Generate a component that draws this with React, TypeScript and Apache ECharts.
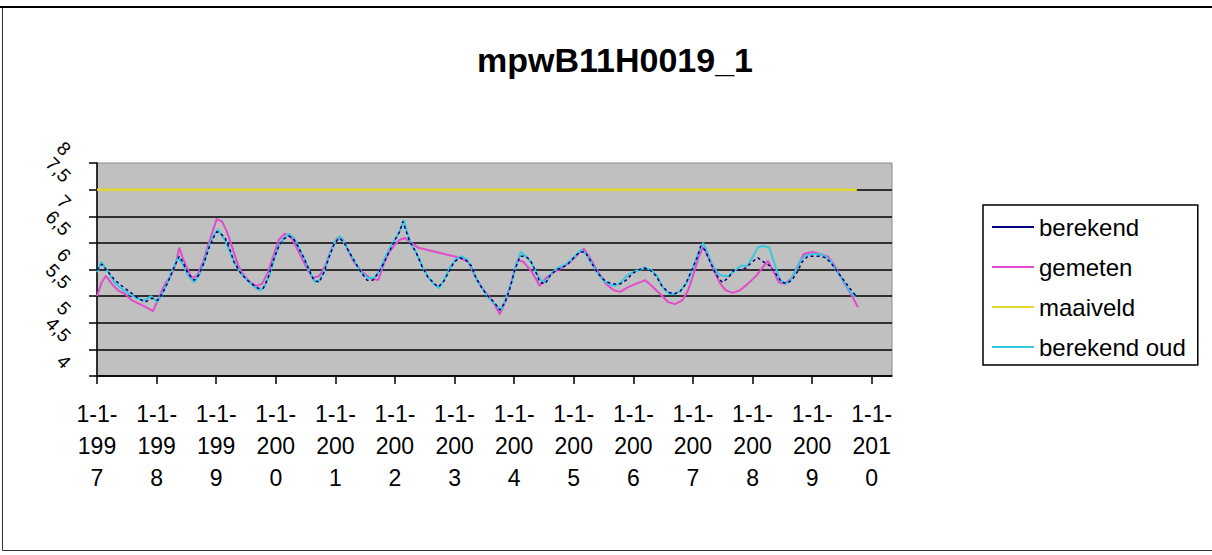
import React, { useEffect, useRef } from 'react';
import * as echarts from 'echarts';

const titleText = 'mpwB11H0019_1';
const yearTicks = [1997, 1998, 1999, 2000, 2001, 2002, 2003, 2004, 2005, 2006, 2007, 2008, 2009, 2010];
const yWholeLabels = [4, 5, 6, 7, 8];
const yHalfLabels = [4.5, 5.5, 6.5, 7.5];
const seriesNames = ['berekend', 'gemeten', 'maaiveld', 'berekend oud'];

const berekend: number[][] = [
  [1997.00,5.99],[1997.08,6.10],[1997.19,5.95],[1997.30,5.80],[1997.42,5.69],[1997.55,5.58],[1997.69,5.46],[1997.81,5.39],[1997.92,5.46],[1998.02,5.42],
  [1998.11,5.58],[1998.19,5.76],[1998.29,6.03],[1998.38,6.25],[1998.44,6.14],[1998.53,5.92],[1998.63,5.80],[1998.71,5.90],[1998.80,6.14],[1998.88,6.41],
  [1998.95,6.59],[1999.01,6.71],[1999.08,6.67],[1999.15,6.59],[1999.22,6.41],[1999.30,6.14],[1999.40,5.95],[1999.50,5.82],[1999.60,5.73],[1999.70,5.65],
  [1999.79,5.65],[1999.87,5.84],[1999.95,6.14],[2000.04,6.41],[2000.12,6.56],[2000.21,6.63],[2000.29,6.59],[2000.37,6.44],[2000.47,6.22],[2000.56,5.99],
  [2000.64,5.80],[2000.73,5.76],[2000.81,5.95],[2000.89,6.22],[2000.98,6.48],[2001.06,6.59],[2001.14,6.52],[2001.23,6.33],[2001.33,6.14],[2001.43,5.95],
  [2001.53,5.80],[2001.63,5.80],[2001.73,5.95],[2001.82,6.14],[2001.92,6.37],[2002.00,6.56],[2002.08,6.71],[2002.13,6.90],[2002.19,6.71],[2002.25,6.52],
  [2002.35,6.33],[2002.45,6.07],[2002.55,5.86],[2002.64,5.76],[2002.72,5.67],[2002.81,5.76],[2002.91,5.97],[2002.99,6.14],[2003.09,6.22],[2003.19,6.18],
  [2003.28,6.07],[2003.36,5.84],[2003.46,5.65],[2003.56,5.50],[2003.66,5.39],[2003.76,5.24],[2003.85,5.39],[2003.93,5.65],[2004.01,5.99],[2004.10,6.25],
  [2004.18,6.25],[2004.27,6.18],[2004.35,5.99],[2004.43,5.76],[2004.52,5.73],[2004.60,5.88],[2004.70,5.99],[2004.80,6.03],[2004.90,6.10],[2005.00,6.22],
  [2005.10,6.33],[2005.19,6.33],[2005.27,6.18],[2005.37,5.99],[2005.47,5.84],[2005.57,5.76],[2005.67,5.73],[2005.78,5.73],[2005.88,5.80],[2005.98,5.92],
  [2006.08,5.99],[2006.18,6.03],[2006.28,5.99],[2006.38,5.88],[2006.48,5.69],[2006.58,5.58],[2006.68,5.54],[2006.78,5.58],[2006.88,5.73],[2006.98,5.99],
  [2007.07,6.22],[2007.13,6.44],[2007.20,6.37],[2007.29,6.14],[2007.39,5.90],[2007.49,5.76],[2007.59,5.84],[2007.69,5.99],[2007.79,5.99],[2007.89,6.03],
  [2007.99,6.14],[2008.09,6.22],[2008.19,6.14],[2008.29,6.07],[2008.39,5.92],[2008.49,5.76],[2008.58,5.74],[2008.66,5.80],[2008.75,5.95],[2008.83,6.14],
  [2008.93,6.25],[2009.03,6.25],[2009.13,6.25],[2009.23,6.22],[2009.33,6.10],[2009.43,5.95],[2009.53,5.80],[2009.63,5.65],[2009.74,5.50]
];

const gemeten: number[][] = [
  [1997.00,5.50],[1997.08,5.76],[1997.15,5.88],[1997.25,5.73],[1997.35,5.61],[1997.47,5.54],[1997.59,5.42],[1997.72,5.35],[1997.86,5.27],[1997.94,5.22],
  [1998.02,5.42],[1998.09,5.61],[1998.16,5.76],[1998.24,5.88],[1998.33,6.14],[1998.38,6.41],[1998.44,6.22],[1998.51,6.03],[1998.59,5.84],[1998.68,5.88],
  [1998.78,6.14],[1998.86,6.44],[1998.95,6.75],[1999.01,6.95],[1999.10,6.90],[1999.18,6.71],[1999.27,6.41],[1999.37,6.07],[1999.47,5.88],[1999.57,5.76],
  [1999.67,5.69],[1999.77,5.73],[1999.87,5.95],[1999.97,6.29],[2000.05,6.56],[2000.15,6.67],[2000.24,6.63],[2000.32,6.48],[2000.42,6.25],[2000.52,6.03],
  [2000.62,5.84],[2000.73,5.88],[2000.83,6.07],[2000.93,6.37],[2001.03,6.59],[2001.11,6.59],[2001.21,6.37],[2001.31,6.14],[2001.45,5.95],[2001.58,5.84],
  [2001.72,5.80],[2001.80,6.07],[2001.88,6.29],[2001.98,6.44],[2002.08,6.56],[2002.17,6.59],[2002.25,6.52],[2002.39,6.41],[2002.76,6.31],[2003.09,6.22],
  [2003.23,6.14],[2003.36,5.84],[2003.49,5.61],[2003.63,5.42],[2003.76,5.16],[2003.86,5.42],[2003.96,5.80],[2004.06,6.18],[2004.16,6.14],[2004.30,5.95],
  [2004.43,5.69],[2004.53,5.84],[2004.67,5.95],[2004.80,6.03],[2004.94,6.14],[2005.07,6.29],[2005.17,6.39],[2005.27,6.22],[2005.41,5.95],[2005.54,5.73],
  [2005.67,5.61],[2005.78,5.58],[2005.91,5.67],[2006.04,5.73],[2006.20,5.80],[2006.31,5.69],[2006.45,5.54],[2006.58,5.39],[2006.70,5.35],[2006.82,5.42],
  [2006.92,5.61],[2007.02,5.95],[2007.10,6.25],[2007.17,6.42],[2007.25,6.25],[2007.35,5.99],[2007.45,5.75],[2007.55,5.61],[2007.67,5.56],[2007.79,5.61],
  [2007.92,5.73],[2008.06,5.88],[2008.19,6.07],[2008.26,6.16],[2008.34,5.99],[2008.44,5.76],[2008.54,5.73],[2008.66,5.84],[2008.76,6.07],[2008.86,6.29],
  [2009.00,6.33],[2009.13,6.29],[2009.27,6.24],[2009.40,6.03],[2009.53,5.76],[2009.65,5.54],[2009.77,5.29]
];

const maaiveld: number[][] = [[1997.00, 7.5], [2009.75, 7.5]];

const berekendOud: number[][] = [
  [1997.00,5.95],[1997.07,6.14],[1997.17,5.99],[1997.29,5.76],[1997.40,5.65],[1997.54,5.54],[1997.67,5.46],[1997.79,5.42],[1997.91,5.50],[1998.01,5.39],
  [1998.09,5.54],[1998.17,5.73],[1998.28,6.03],[1998.36,6.22],[1998.44,6.10],[1998.53,5.88],[1998.63,5.76],[1998.71,5.88],[1998.80,6.14],[1998.88,6.44],
  [1998.95,6.63],[1999.03,6.75],[1999.10,6.63],[1999.16,6.52],[1999.23,6.33],[1999.32,6.10],[1999.42,5.92],[1999.52,5.80],[1999.62,5.69],[1999.72,5.61],
  [1999.80,5.65],[1999.89,5.88],[1999.97,6.18],[2000.05,6.44],[2000.14,6.59],[2000.22,6.67],[2000.31,6.59],[2000.39,6.41],[2000.49,6.18],[2000.57,5.95],
  [2000.66,5.76],[2000.74,5.80],[2000.83,6.03],[2000.91,6.29],[2000.99,6.52],[2001.08,6.63],[2001.16,6.48],[2001.25,6.29],[2001.35,6.10],[2001.45,5.92],
  [2001.55,5.84],[2001.65,5.84],[2001.75,5.99],[2001.83,6.22],[2001.93,6.44],[2002.02,6.59],[2002.10,6.78],[2002.15,6.93],[2002.20,6.71],[2002.27,6.48],
  [2002.37,6.29],[2002.47,6.03],[2002.57,5.84],[2002.65,5.73],[2002.74,5.65],[2002.82,5.80],[2002.92,6.03],[2003.01,6.18],[2003.11,6.25],[2003.21,6.18],
  [2003.29,6.03],[2003.38,5.80],[2003.48,5.61],[2003.58,5.46],[2003.68,5.35],[2003.78,5.24],[2003.86,5.46],[2003.95,5.73],[2004.03,6.07],[2004.11,6.33],
  [2004.20,6.25],[2004.28,6.14],[2004.37,5.95],[2004.45,5.80],[2004.53,5.76],[2004.62,5.92],[2004.72,6.03],[2004.82,6.07],[2004.92,6.14],[2005.02,6.25],
  [2005.12,6.37],[2005.21,6.29],[2005.29,6.14],[2005.39,5.95],[2005.49,5.80],[2005.59,5.73],[2005.69,5.69],[2005.79,5.76],[2005.89,5.88],[2005.99,5.95],
  [2006.09,5.99],[2006.20,6.03],[2006.30,5.99],[2006.40,5.88],[2006.50,5.65],[2006.60,5.54],[2006.70,5.54],[2006.80,5.61],[2006.90,5.76],[2007.00,6.03],
  [2007.08,6.29],[2007.17,6.50],[2007.24,6.33],[2007.32,6.10],[2007.42,5.92],[2007.50,5.88],[2007.60,5.88],[2007.71,5.99],[2007.81,6.07],[2007.91,6.07],
  [2008.01,6.25],[2008.09,6.42],[2008.19,6.44],[2008.28,6.41],[2008.36,6.14],[2008.46,5.80],[2008.56,5.73],[2008.64,5.80],[2008.73,5.99],[2008.81,6.18],
  [2008.91,6.27],[2009.01,6.29],[2009.11,6.29],[2009.22,6.25],[2009.32,6.14],[2009.42,5.95],[2009.52,5.80],[2009.62,5.61],[2009.72,5.48]
];

const FONT = '"Liberation Sans", Arial, sans-serif';
const COLORS = ['#000080', '#e04ccc', '#e2d82c', '#38c8dc'];

const yLabelStyle = {
  rotate: -45,
  fontFamily: FONT,
  fontSize: 19,
  color: '#000',
  margin: 40,
  verticalAlign: 'bottom',
  lineHeight: 30,
  showMinLabel: true,
  showMaxLabel: true,
  formatter: (v: number) => String(v).replace('.', ','),
};

export default function App() {
  const ref = useRef<HTMLDivElement>(null);
  useEffect(() => {
    if (!ref.current) return;
    const chart = echarts.init(ref.current, null, { renderer: 'svg' });
    chart.setOption({
      animation: false,
      backgroundColor: '#ffffff',
      title: {
        text: titleText,
        left: 472,
        top: 38,
        textStyle: { fontFamily: FONT, fontSize: 34, fontWeight: 'bold', color: '#000' },
      },
      graphic: [
        { type: 'rect', shape: { x: 2.5, y: 7.5, width: 1300, height: 543 }, style: { fill: 'none', stroke: '#333', lineWidth: 1 }, silent: true },
        { type: 'line', shape: { x1: 0, y1: 7, x2: 1212, y2: 7 }, style: { stroke: '#000', lineWidth: 2 }, silent: true },
      ],
      legend: {
        orient: 'vertical',
        left: 983,
        top: 205,
        padding: [10, 12, 6, 9],
        itemWidth: 42,
        itemHeight: 2,
        itemGap: 16,
        borderColor: '#000',
        borderWidth: 1.5,
        backgroundColor: '#fff',
        data: seriesNames.map((n) => ({ name: n, icon: 'rect' })),
        textStyle: { fontFamily: FONT, fontSize: 24, color: '#000' },
      },
      grid: {
        left: 97,
        right: 320,
        top: 163,
        bottom: 179,
        show: true,
        backgroundColor: '#c0c0c0',
        borderColor: '#8a8a8a',
        borderWidth: 1,
      },
      xAxis: {
        type: 'value',
        min: 1997,
        max: 2010.34,
        axisLine: { show: true, lineStyle: { color: '#000', width: 1.5 } },
        axisTick: { show: true, customValues: yearTicks, length: 8, lineStyle: { color: '#000', width: 1.5 } },
        axisLabel: {
          customValues: yearTicks,
          fontFamily: FONT,
          fontSize: 23,
          lineHeight: 32,
          margin: 22,
          color: '#000',
          formatter: (v: number) => {
            if (Math.abs(v - Math.round(v)) > 1e-6) return '';
            const s = String(Math.round(v));
            return '1-1-\n' + s.slice(0, 3) + '\n' + s.slice(3);
          },
        },
        splitLine: { show: false },
      },
      yAxis: [
        {
          type: 'value',
          min: 4,
          max: 8,
          interval: 0.5,
          position: 'left',
          axisLine: { show: true, lineStyle: { color: '#000', width: 1.5 } },
          axisTick: { show: true, length: 8, lineStyle: { color: '#000', width: 1.5 } },
          axisLabel: { ...yLabelStyle, customValues: yWholeLabels },
          splitLine: { show: true, showMaxLine: false, lineStyle: { color: '#000', width: 1.6 } },
        },
        {
          type: 'value',
          min: 4,
          max: 8,
          interval: 0.5,
          position: 'left',
          offset: 0,
          axisLine: { show: false },
          axisTick: { show: false },
          axisLabel: { ...yLabelStyle, customValues: yHalfLabels },
          splitLine: { show: false },
        },
      ],
      series: [
        {
          name: seriesNames[0], type: 'line', data: berekend, showSymbol: false, z: 5,
          color: COLORS[0], lineStyle: { color: COLORS[0], width: 1.5, type: [3, 3] },
        },
        {
          name: seriesNames[1], type: 'line', data: gemeten, showSymbol: false, z: 2,
          color: COLORS[1], lineStyle: { color: COLORS[1], width: 2 },
        },
        {
          name: seriesNames[2], type: 'line', data: maaiveld, showSymbol: false, z: 2,
          color: COLORS[2], lineStyle: { color: COLORS[2], width: 2.5 },
        },
        {
          name: seriesNames[3], type: 'line', data: berekendOud, showSymbol: false, z: 3,
          color: COLORS[3], lineStyle: { color: COLORS[3], width: 2 },
        },
      ],
    });
    return () => chart.dispose();
  }, []);
  return (
    <div
      ref={ref}
      style={{ position: 'fixed', left: 0, top: 0, width: 1212, height: 555, background: '#fff' }}
    />
  );
}
